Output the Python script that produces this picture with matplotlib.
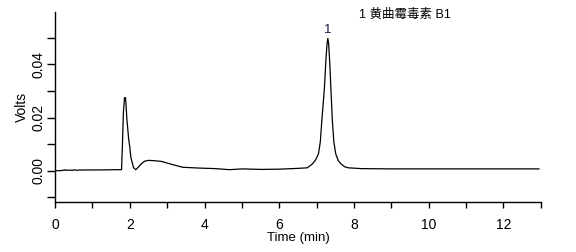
import matplotlib
matplotlib.use("Agg")
import matplotlib.pyplot as plt
from matplotlib.ticker import MultipleLocator

plt.rcParams['font.family'] = ['Liberation Sans', 'Noto Sans CJK SC', 'DejaVu Sans']

# chromatogram trace (time in min, signal in volts)
time = [0.00, 0.20, 0.26, 0.28, 0.30, 0.50, 0.52, 0.56, 0.80, 1.20, 1.60, 1.78,
        1.80, 1.83, 1.86, 1.885, 1.90, 1.92, 1.97, 2.00, 2.03, 2.10, 2.16,
        2.22, 2.30, 2.40, 2.50, 2.65, 2.85, 3.10, 3.42, 3.87, 4.30, 4.67,
        5.02, 5.50, 6.00, 6.50, 6.75, 6.89, 6.97, 7.05, 7.10, 7.14, 7.18,
        7.21, 7.25, 7.28, 7.30, 7.32, 7.35, 7.38, 7.42, 7.46, 7.51, 7.58,
        7.65, 7.75, 7.85, 8.20, 9.00, 10.00, 11.00, 12.00, 12.95]
volts = [0.0000, 0.0001, 0.0004, 0.0001, 0.0002, 0.0002, 0.0004, 0.0002, 0.0003,
         0.0003, 0.0004, 0.0004,
         0.0080, 0.0220, 0.0275, 0.0275, 0.0250, 0.0200, 0.0120, 0.0090,
         0.0050, 0.0012, 0.0004,
         0.0012, 0.0025, 0.0036, 0.0039, 0.0038, 0.0035, 0.0025, 0.0013,
         0.0010, 0.0008, 0.0004,
         0.0007, 0.0005, 0.0006, 0.0009, 0.0011, 0.0026, 0.0040, 0.0064,
         0.0110, 0.0190, 0.0260,
         0.0316, 0.0420, 0.0480, 0.0498, 0.0480, 0.0410, 0.0316, 0.0190,
         0.0110, 0.0064, 0.0038,
         0.0026, 0.0015, 0.0011, 0.0008, 0.0007, 0.0007, 0.0007, 0.0007, 0.0007]

peak_labels = ["1"]
peak_times = [7.30]
peak_heights = [0.0498]
legend_text = "1 黄曲霉毒素 B1"

fig = plt.figure(figsize=(5.76, 2.52), dpi=100)
ax = fig.add_axes([0.0955, 0.198, 0.8435, 0.754])

ax.plot(time, volts, color='black', linewidth=0.9)

for lab, t, h in zip(peak_labels, peak_times, peak_heights):
    ax.annotate(lab, (t, h), xytext=(0, 2), textcoords='offset points',
                ha='center', va='bottom', fontsize=9.5, color='#1a1a4a')

ax.text(0.626, 1.015, legend_text, transform=ax.transAxes, ha='left', va='top',
        fontsize=9, color='black')

ax.set_xlim(0, 13)
ax.set_ylim(-0.0118, 0.0597)
ax.xaxis.set_major_locator(MultipleLocator(2))
ax.xaxis.set_minor_locator(MultipleLocator(1))
ax.yaxis.set_major_locator(MultipleLocator(0.02))
ax.yaxis.set_minor_locator(MultipleLocator(0.01))
ax.yaxis.set_major_formatter(matplotlib.ticker.FormatStrFormatter('%.2f'))

for s in ['top', 'right']:
    ax.spines[s].set_visible(False)
for s in ['left', 'bottom']:
    ax.spines[s].set_linewidth(1.0)

ax.tick_params(axis='both', which='both', direction='out', labelsize=10, width=1.0)
ax.tick_params(axis='y', which='both', length=6)
ax.tick_params(axis='y', which='major', pad=1)
ax.tick_params(axis='x', which='both', length=4.5)
ax.tick_params(axis='x', which='major', pad=7)
for lbl in ax.get_yticklabels():
    lbl.set_rotation(90)
    lbl.set_va('center')

ax.set_xlabel('Time (min)', fontsize=9.5, labelpad=0)
ax.set_ylabel('Volts', fontsize=10, labelpad=2)

fig.savefig('out.png', dpi=100)
